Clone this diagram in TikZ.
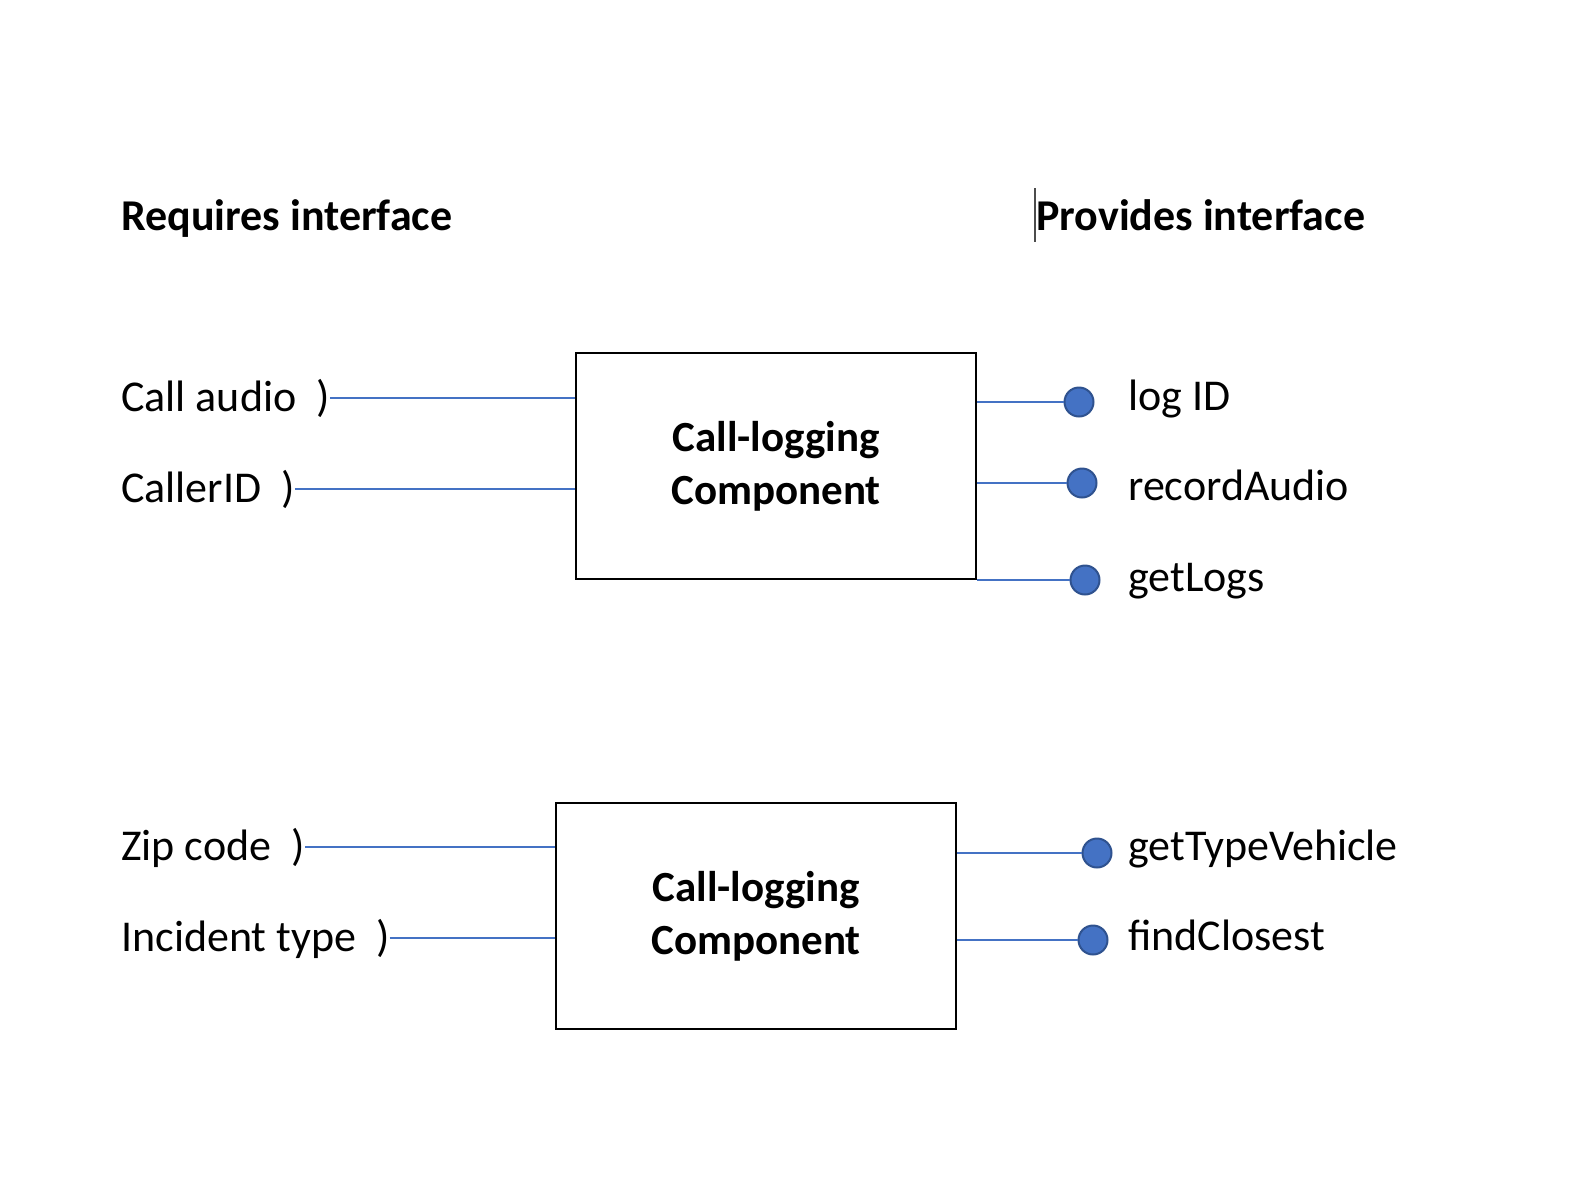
\documentclass[tikz,border=0pt]{standalone}
\usepackage{fontspec}
\setmainfont{Carlito}
\definecolor{wireblue}{HTML}{4472C4}
\definecolor{balledge}{HTML}{2F528F}
\tikzset{
  lbl/.style={inner sep=0pt,anchor=base west,font=\fontsize{44}{53}\selectfont},
  head/.style={lbl,font=\fontsize{44}{53}\selectfont\bfseries},
  comp/.style={draw,line width=1.8pt,minimum width=400pt,minimum height=226pt,inner sep=0pt,
    align=center,font=\fontsize{43}{53}\selectfont\bfseries},
  wire/.style={wireblue,line width=2pt},
  ball/.style={circle,fill=wireblue,draw=balledge,line width=2pt,minimum size=29pt,inner sep=0pt}
}
\begin{document}
\begin{tikzpicture}[x=1pt,y=-1pt]
  \useasboundingbox (0,0) rectangle (1592,1189);

  \node[head] (req) at (121,230) {Requires interface};
  \node[head] (prov) at (1036,230) {Provides interface};
  \draw[gray!60!black,line width=2pt] (1035,188)--(1035,242); %cursor

  % upper component
  \node[comp] (box1) at (776,466) {Call-logging\\Component};
  \node[lbl] (audio) at (121,411) {Call audio\ \ )};
  \node[lbl] (caller) at (121,502) {CallerID\ \ )};
  \draw[wire] (audio.east)--(audio.east -| box1.west);
  \draw[wire] (caller.east)--(caller.east -| box1.west);

  \node[ball] (b1) at (1079,402) {};
  \node[ball] (b2) at (1082,483) {};
  \node[ball] (b3) at (1085,580) {};
  \draw[wire] (b1 -| box1.east)--(b1);
  \draw[wire] (b2 -| box1.east)--(b2);
  \draw[wire] (b3 -| box1.east)--(b3);
  \node[lbl] (logid) at (1128,410) {log ID};
  \node[lbl] (rec) at (1128,500) {recordAudio};
  \node[lbl] (logs) at (1128,591) {getLogs};

  % lower component
  \node[comp] (box2) at (756,916) {Call-logging\\Component};
  \node[lbl] (zip) at (121,860) {Zip code\ \ )};
  \node[lbl] (inc) at (121,951) {Incident type\ \ )};
  \draw[wire] (zip.east)--(zip.east -| box2.west);
  \draw[wire] (inc.east)--(inc.east -| box2.west);

  \node[ball] (b4) at (1097,853) {};
  \node[ball] (b5) at (1093,940) {};
  \draw[wire] (b4 -| box2.east)--(b4);
  \draw[wire] (b5 -| box2.east)--(b5);
  \node[lbl] (veh) at (1128,860) {getTypeVehicle};
  \node[lbl] (close) at (1128,950) {findClosest};
\end{tikzpicture}
\end{document}
